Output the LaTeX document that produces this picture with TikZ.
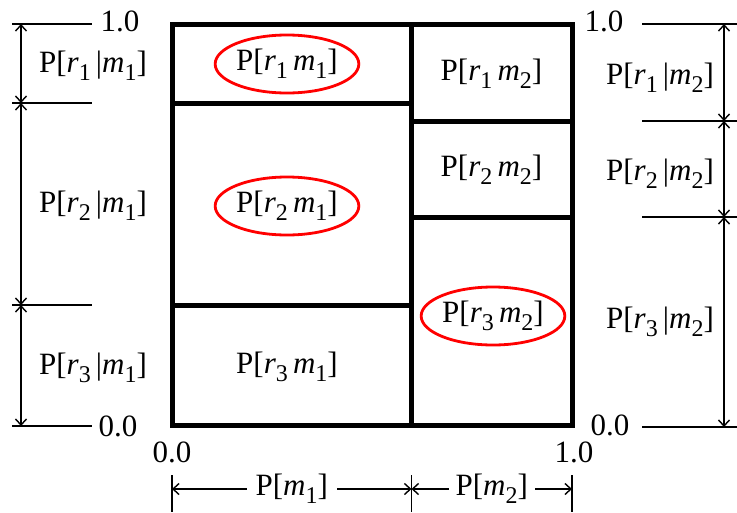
\documentclass[tikz,border=0pt]{standalone}
\usepackage{fontspec}
\setmainfont{Liberation Serif}
\usetikzlibrary{arrows.meta,shapes.geometric}
\newcommand{\lowsub}[1]{\raisebox{-0.55ex}{\fontsize{24}{24}\selectfont #1}}
\newcommand{\jp}[2]{P[\textit{r}\lowsub{#1}\,\textit{m}\lowsub{#2}]}
\newcommand{\cp}[2]{P[\textit{r}\lowsub{#1}\,|\textit{m}\lowsub{#2}]}
\newcommand{\mprob}[1]{P[\textit{m}\lowsub{#1}]}

\begin{document}
\begin{tikzpicture}[x=1pt,y=-1pt,>={Straight Barb[length=6pt,width=11pt]},
  every node/.style={font=\fontsize{31}{34}\selectfont,inner sep=1pt},
  box/.style={line width=5pt,line cap=rect},
  tick/.style={line width=1.4pt},
  dim/.style={line width=1.4pt,<->},
  ring/.style={draw=red,line width=2.8pt,ellipse,minimum width=130pt,minimum height=58pt,inner sep=0pt}]
\useasboundingbox (0,0) rectangle (737,512);
% the unit square, cut into cells
\draw[box] (172,24) rectangle (572,425);
\draw[box] (411.5,24) -- (411.5,425);
\draw[box] (172,103) -- (411.5,103);
\draw[box] (172,305) -- (411.5,305);
\draw[box] (411.5,121) -- (572,121);
\draw[box] (411.5,217) -- (572,217);
\node[ring] (c11) at (287,64) {\jp11};
\node[ring] (c21) at (287,206) {\jp21};
\node (c31) at (287,367) {\jp31};
\node (c12) at (491.5,74) {\jp12};
\node (c22) at (491.5,170) {\jp22};
\node[ring] (c32) at (493,316) {\jp32};
% left scale
\foreach \n/\y in {a/24,b/103,c/305,d/426} {
  \coordinate (L\n) at (21,\y);
  \draw[tick] (12,\y) -- (92,\y);
}
\draw[dim] (La) -- (Lb);
\draw[dim] (Lb) -- (Lc);
\draw[dim] (Lc) -- (Ld);
\node (lt) at (120,21) {1.0};
\node (lo) at (118,426) {0.0};
\node (l1) at (93,66) {\cp11};
\node (l2) at (93,206) {\cp21};
\node (l3) at (93,368) {\cp31};
% right scale
\foreach \n/\y in {a/24,b/121,c/217,d/427} {
  \coordinate (R\n) at (724,\y);
  \draw[tick] (642,\y) -- (737,\y);
}
\draw[dim] (Ra) -- (Rb);
\draw[dim] (Rb) -- (Rc);
\draw[dim] (Rc) -- (Rd);
\node (rt) at (604,21) {1.0};
\node (ro) at (610,425) {0.0};
\node (r1) at (660,78) {\cp12};
\node (r2) at (660,174) {\cp22};
\node (r3) at (660,322) {\cp32};
% bottom scale
\node (bo) at (172,452) {0.0};
\node (bt) at (574,452) {1.0};
\foreach \n/\x in {a/172,b/411.5,c/572} {
  \coordinate (B\n) at (\x,489);
  \draw[tick] (\x,475) -- (\x,512);
}
\draw[dim] (Ba) -- node[fill=white,inner xsep=9pt] (m1) {\mprob1} (Bb);
\draw[dim] (Bb) -- node[fill=white,inner xsep=7pt] (m2) {\mprob2} (Bc);
\end{tikzpicture}
\end{document}
